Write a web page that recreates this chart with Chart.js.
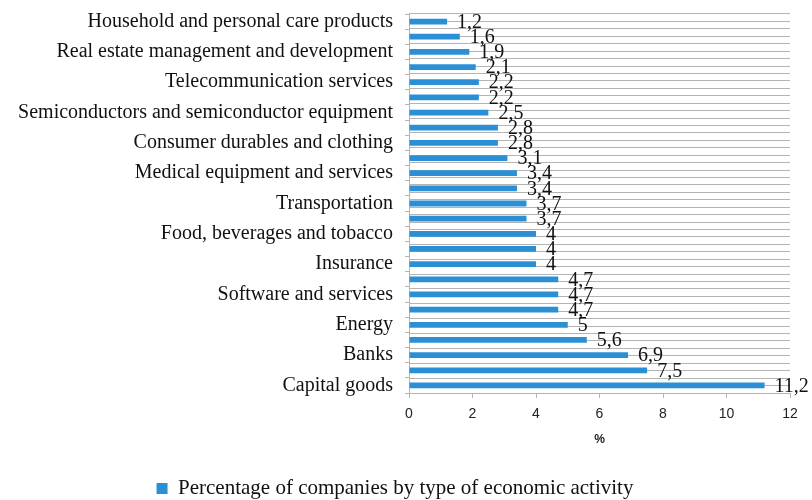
<!DOCTYPE html>
<html>
<head>
<meta charset="utf-8">
<script src="https://cdn.jsdelivr.net/npm/chart.js@4/dist/chart.umd.min.js"></script>
<style>
  html, body { margin: 0; padding: 0; background: #fff; }
  #wrap { width: 812px; height: 500px; }
</style>
</head>
<body>
<div id="wrap"><canvas id="chart"></canvas></div>
<script>
// only every other category is labelled in the original, the others are unreadable
const categories = [
    'Household and personal care products', '',
    'Real estate management and development', '',
    'Telecommunication services', '',
    'Semiconductors and semiconductor equipment', '',
    'Consumer durables and clothing', '',
    'Medical equipment and services', '',
    'Transportation', '',
    'Food, beverages and tobacco', '',
    'Insurance', '',
    'Software and services', '',
    'Energy', '',
    'Banks', '',
    'Capital goods'
];

const shares = [1.2, 1.6, 1.9, 2.1, 2.2, 2.2, 2.5, 2.8, 2.8, 3.1, 3.4, 3.4, 3.7,
    3.7, 4, 4, 4, 4.7, 4.7, 4.7, 5, 5.6, 6.9, 7.5, 11.2];

const xTicks = [0, 2, 4, 6, 8, 10, 12];

const seriesName = 'Percentage of companies by type of economic activity';
const barColor = '#2b8fd6';
const gridColor = '#b4b4b4';
const serif = '"Liberation Serif", "Times New Roman", serif';

// draws the value next to the end of each bar, with a decimal comma
const valueLabels = {
    id: 'valueLabels',
    afterDatasetsDraw(chart) {
        const ctx = chart.ctx;
        const meta = chart.getDatasetMeta(0);
        ctx.save();
        ctx.font = '20px ' + serif;
        ctx.fillStyle = '#111';
        ctx.textBaseline = 'middle';
        ctx.textAlign = 'left';
        meta.data.forEach((bar, i) => {
            const txt = String(chart.data.datasets[0].data[i]).replace('.', ',');
            ctx.fillText(txt, bar.x + 10, bar.y + 1);
        });
        ctx.restore();
    }
};

const config = {
    type: 'bar',
    data: {
        labels: categories,
        datasets: [{
            label: seriesName,
            data: shares,
            backgroundColor: barColor,
            borderWidth: 0,
            barPercentage: 0.38,
            categoryPercentage: 1.0,
            yAxisID: 'y'
        }]
    },
    options: {
        indexAxis: 'y',
        responsive: true,
        maintainAspectRatio: false,
        animation: false,
        layout: { padding: { left: 0, right: 22, top: 14, bottom: -9 } },
        scales: {
            x: {
                min: 0,
                max: 12,
                afterBuildTicks: (scale) => {
                    scale.ticks = xTicks.map(v => ({ value: v }));
                },
                grid: {
                    drawOnChartArea: false,
                    color: gridColor,
                    tickLength: 5
                },
                border: { color: gridColor },
                ticks: {
                    color: '#222',
                    padding: 8,
                    font: { family: '"Liberation Sans", Arial, sans-serif', size: 14 }
                },
                title: {
                    display: true,
                    text: '%',
                    color: '#222',
                    padding: { top: 4, bottom: 31 },
                    font: { family: '"Liberation Sans", Arial, sans-serif', size: 12, weight: 'bold' }
                },
                afterFit: (scale) => { scale.height = 85; }
            },
            y: {
                position: 'left',
                weight: 1,
                grid: {
                    offset: true,
                    drawOnChartArea: false,
                    color: gridColor,
                    tickLength: 4
                },
                border: { color: gridColor },
                ticks: {
                    autoSkip: false,
                    color: '#111',
                    padding: 12,
                    font: { family: serif, size: 20 }
                },
                afterFit: (scale) => {
                    scale.width = 409;
                    scale.paddingTop = 0;
                    scale.paddingBottom = 0;
                }
            },
            // gridlines at each bar and between bars, as in the original
            yGrid: {
                type: 'linear',
                position: 'left',
                weight: 2,
                min: -0.5,
                max: 24.5,
                reverse: true,
                ticks: { display: false, stepSize: 0.5 },
                grid: { color: gridColor, drawTicks: false },
                border: { display: false },
                afterFit: (scale) => {
                    scale.width = 0;
                    scale.paddingTop = 0;
                    scale.paddingBottom = 0;
                }
            }
        },
        plugins: {
            legend: {
                position: 'bottom',
                labels: {
                    color: '#111',
                    boxWidth: 11,
                    boxHeight: 11,
                    padding: 0,
                    font: { family: serif, size: 21 }
                }
            },
            tooltip: { enabled: false }
        }
    },
    plugins: [valueLabels]
};

new Chart(document.getElementById('chart'), config);
</script>
</body>
</html>
